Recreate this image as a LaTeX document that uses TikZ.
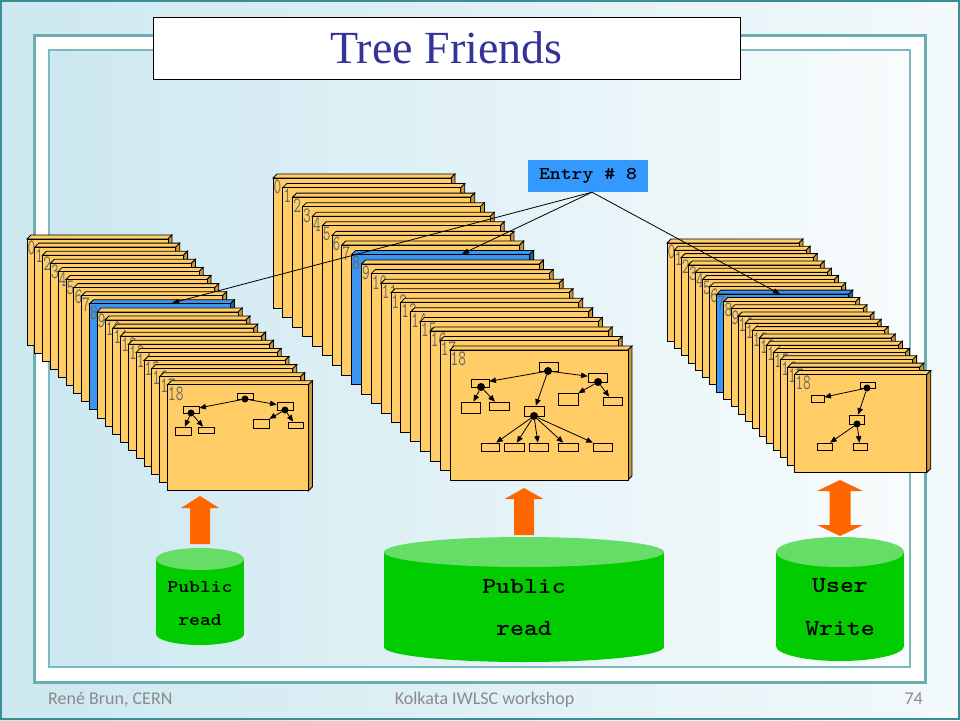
\documentclass[tikz,border=0pt]{standalone}
\usepackage{fontspec}
\usepackage{graphicx}
\setmainfont{Liberation Serif}
\newfontfamily\footfont{Carlito}
\usetikzlibrary{arrows.meta}
\definecolor{bgL}{HTML}{CDE8F0}
\definecolor{bgR}{HTML}{F3F9FB}
\definecolor{bgRin}{HTML}{F8FCFD}
\definecolor{borderteal}{HTML}{3A8E94}
\definecolor{frameout}{HTML}{6AAEB2}
\definecolor{framein}{HTML}{7DB8BF}
\definecolor{titleblue}{HTML}{333399}
\definecolor{cardfill}{HTML}{FFCC66}
\definecolor{cardside}{HTML}{C8963C}
\definecolor{cardblue}{HTML}{3A94F0}
\definecolor{cardblueside}{HTML}{1F5FA8}
\definecolor{entryblue}{HTML}{3399FF}
\definecolor{numgray}{HTML}{666666}
\definecolor{arroworange}{HTML}{FF6600}
\definecolor{cylbody}{HTML}{00CC00}
\definecolor{cyltop}{HTML}{66DD66}
\definecolor{footgray}{HTML}{8A8A8A}
\newcommand{\wideT}[1]{\scalebox{1.15}[1]{#1}}
\newcommand{\drawstack}[8]{%
  \foreach \i in {0,...,18}{%
    \pgfmathsetmacro{\cx}{#1+\i*#5}%
    \pgfmathsetmacro{\cy}{#2+\i*#6}%
    \ifnum\i=#7\relax\def\fc{cardblue}\def\sc{cardblueside}\else\def\fc{cardfill}\def\sc{cardside}\fi
    \filldraw[fill=\fc, cardline] (\cx,\cy) -- ++(4,-4) -- ++(#3,0) -- ++(-4,4) -- cycle;
    \filldraw[fill=\sc, cardline] (\cx+#3,\cy) -- ++(4,-4) -- ++(0,#4) -- ++(-4,4) -- cycle;
    \filldraw[fill=\fc, cardline] (\cx,\cy) rectangle ++(#3,#4);
    \node[numlabel] (#8\i) at (\cx+0.5,\cy+1.5) {\scalebox{0.68}[1]{\i}};
  }%
}
\newcommand{\cylinder}[5]{% cx, rx, ytop, ybot, ry
  \fill[cylbody] (#1,#4) ellipse[x radius=#2pt, y radius=#5pt];
  \fill[cylbody] (#1-#2,#3) rectangle (#1+#2,#4);
  \fill[cyltop] (#1,#3) ellipse[x radius=#2pt, y radius=#5pt];
}
\tikzset{
  cardline/.style={draw=black, line width=0.8pt},
  numlabel/.style={anchor=north west, inner sep=0pt, text=numgray, font=\ttfamily\fontsize{22}{22}\selectfont},
  tbox/.style={rectangle, draw=black, line width=0.8pt, inner sep=0pt},
  tdot/.style={circle, fill=black, inner sep=0pt, minimum size=7pt},
  bdot/.style={circle, fill=black, inner sep=0pt, minimum size=8pt},
  tarrow/.style={-{Triangle[length=6.5pt,width=5.5pt]}, line width=0.8pt},
  earrow/.style={-{Triangle[length=7pt,width=5pt]}, line width=0.8pt},
  cyltext/.style={anchor=base, inner sep=0pt, font=\ttfamily\bfseries\fontsize{23}{23}\selectfont},
  cyltextsmall/.style={anchor=base, inner sep=0pt, font=\ttfamily\bfseries\fontsize{18}{18}\selectfont},
  foot/.style={inner sep=0pt, text=footgray, font=\footfont\fontsize{18}{18}\selectfont},
  blockarrow/.style={fill=arroworange},
}
\begin{document}
\begin{tikzpicture}[x=1pt,y=-1pt]
\useasboundingbox (0,0) rectangle (960,720);
% background and frame
\shade[left color=bgL, right color=bgR] (0,0) rectangle (960,720);
\draw[draw=borderteal, line width=2pt] (1,1) rectangle (959,719);
\filldraw[fill=white, draw=frameout, line width=3pt] (34,35) rectangle (925,682);
\shade[left color=bgL, right color=bgRin] (49,50) rectangle (910,667);
\draw[draw=framein, line width=2pt] (49,50) rectangle (910,667);
% title
\node[draw=black, line width=1pt, fill=white, minimum width=587pt, minimum height=62pt, inner sep=0pt,
      text=titleblue, font=\fontsize{46}{46}\selectfont] (title) at (446.5,48) {Tree Friends};
% stacks
\drawstack{27}{239}{141}{106}{7.8}{8.1}{8}{L}
\drawstack{273}{178}{178}{130}{9.83}{9.56}{8}{M}
\drawstack{667}{243}{132}{98}{7.1}{7.3}{7}{R}
% left tree
\node[tbox, minimum width=16pt, minimum height=6pt] (lr) at (245,396) {};
\node[tbox, minimum width=16pt, minimum height=7pt] (la) at (191,409.5) {};
\node[tbox, minimum width=16pt, minimum height=8pt] (lb) at (285,406) {};
\node[tbox, minimum width=16pt, minimum height=8pt] (la1) at (183,431) {};
\node[tbox, minimum width=16pt, minimum height=6pt] (la2) at (206,430) {};
\node[tbox, minimum width=16pt, minimum height=9pt] (lb1) at (261,423.5) {};
\node[tbox, minimum width=15pt, minimum height=6pt] (lb2) at (295.5,425) {};
\node[tdot] (lrd) at (245,399) {};
\node[tdot] (lad) at (191,413) {};
\node[tdot] (lbd) at (285,410) {};
\draw[tarrow] (lrd) -- (la);
\draw[tarrow] (lrd) -- (lb);
\draw[tarrow] (lad) -- (la1);
\draw[tarrow] (lad) -- (la2);
\draw[tarrow] (lbd) -- (lb1);
\draw[tarrow] (lbd) -- (lb2);
% middle tree
\node[tbox, minimum width=19pt, minimum height=9pt] (mr) at (548.5,366.5) {};
\node[tbox, minimum width=18pt, minimum height=8pt] (ma) at (480,383) {};
\node[tbox, minimum width=19pt, minimum height=9pt] (mb) at (597.5,377.5) {};
\node[tbox, minimum width=20pt, minimum height=10pt] (mc) at (534,411) {};
\node[tbox, minimum width=19pt, minimum height=11pt] (ma1) at (470.5,407.5) {};
\node[tbox, minimum width=20pt, minimum height=8pt] (ma2) at (499,406) {};
\node[tbox, minimum width=20pt, minimum height=12pt] (mb1) at (568,399) {};
\node[tbox, minimum width=19pt, minimum height=8pt] (mb2) at (612.5,401) {};
\node[tbox, minimum width=18pt, minimum height=8pt] (mc1) at (490,447) {};
\node[tbox, minimum width=20pt, minimum height=8pt] (mc2) at (514,447) {};
\node[tbox, minimum width=19pt, minimum height=8pt] (mc3) at (538.5,447) {};
\node[tbox, minimum width=20pt, minimum height=8pt] (mc4) at (568,447) {};
\node[tbox, minimum width=19pt, minimum height=8pt] (mc5) at (602.5,447) {};
\node[bdot] (mrd) at (548,371) {};
\node[bdot] (mad) at (481,387) {};
\node[bdot] (mbd) at (598,382) {};
\node[bdot] (mcd) at (534,416) {};
\draw[tarrow] (mrd) -- (ma);
\draw[tarrow] (mrd) -- (mb);
\draw[tarrow] (mrd) -- (mc);
\draw[tarrow] (mad) -- (ma1);
\draw[tarrow] (mad) -- (ma2);
\draw[tarrow] (mbd) -- (mb1);
\draw[tarrow] (mbd) -- (mb2);
\foreach \k in {1,...,5}{\draw[tarrow] (mcd) -- (mc\k);}
% right tree
\node[tbox, minimum width=15pt, minimum height=6pt] (rr) at (867.5,385.5) {};
\node[tbox, minimum width=13pt, minimum height=7pt] (rl) at (817.5,398.5) {};
\node[tbox, minimum width=15pt, minimum height=9pt] (rm) at (856.5,419.5) {};
\node[tbox, minimum width=15pt, minimum height=7pt] (rm1) at (824.5,446.5) {};
\node[tbox, minimum width=14pt, minimum height=7pt] (rm2) at (860,446.5) {};
\node[tdot] (rrd) at (867,388) {};
\node[tdot] (rmd) at (857,424) {};
\draw[tarrow] (rrd) -- (rl);
\draw[tarrow] (rrd) -- (rm);
\draw[tarrow] (rmd) -- (rm1);
\draw[tarrow] (rmd) -- (rm2);
% orange block arrows
\fill[blockarrow] (200,496) -- (219,508) -- (210,508) -- (210,544) -- (190,544) -- (190,508) -- (181,508) -- cycle;
\fill[blockarrow] (524,488) -- (543.5,499) -- (534,499) -- (534,535) -- (514,535) -- (514,499) -- (504.5,499) -- cycle;
\fill[blockarrow] (840,480) -- (863,491) -- (850.5,491) -- (850.5,525) -- (863,525) -- (840,536)
   -- (817,525) -- (829.5,525) -- (829.5,491) -- (817,491) -- cycle;
% cylinders
\cylinder{200}{44}{559}{634}{11}
\cylinder{524}{140}{552}{647}{15}
\cylinder{840}{64}{552}{646}{15}
\node[cyltextsmall] (c1a) at (200,592) {\wideT{Public}};
\node[cyltextsmall] (c1b) at (200,625) {\wideT{read}};
\node[cyltext] (c2a) at (524,593) {\wideT{Public}};
\node[cyltext] (c2b) at (524,635) {\wideT{read}};
\node[cyltext] (c3a) at (840,592) {\wideT{User}};
\node[cyltext] (c3b) at (840,635) {\wideT{Write}};
% entry box and links
\node[fill=entryblue, minimum width=120pt, minimum height=32pt, inner sep=0pt,
      font=\ttfamily\bfseries\fontsize{18}{18}\selectfont] (entry) at (588,176) {\wideT{Entry \# 8}};
\coordinate (Ltgt) at (172,303);
\coordinate (Mtgt) at (462,254);
\coordinate (Rtgt) at (780,294);
\draw[earrow] ([xshift=4pt]entry.south) -- (Ltgt);
\draw[earrow] ([xshift=4pt]entry.south) -- (Mtgt);
\draw[earrow] ([xshift=4pt]entry.south) -- (Rtgt);
% footer
\node[foot, anchor=base west] (f1) at (48,704) {René Brun, CERN};
\node[foot, anchor=base] (f2) at (484.5,704) {Kolkata IWLSC workshop};
\node[foot, anchor=base east] (f3) at (923,704) {74};
\end{tikzpicture}
\end{document}
